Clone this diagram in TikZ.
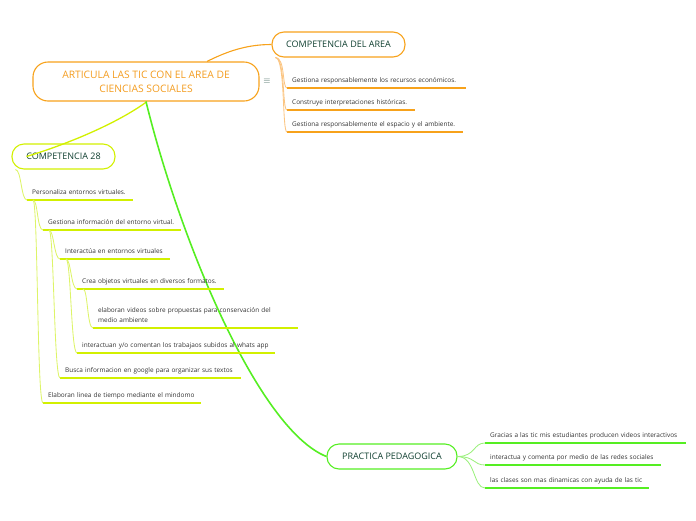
\documentclass[tikz,border=0pt]{standalone}
\usepackage{fontspec}
\setmainfont{Open Sans}
\usetikzlibrary{calc}
\definecolor{orng}{HTML}{F7A21B}
\definecolor{orngtxt}{HTML}{F39C1F}
\definecolor{orngl}{HTML}{FBC582}
\definecolor{lime}{HTML}{D2F000}
\definecolor{limel}{HTML}{DDF468}
\definecolor{grn}{HTML}{55EE22}
\definecolor{grnl}{HTML}{9CF07E}
\definecolor{dkgrn}{HTML}{0F3F30}
\definecolor{itemtxt}{HTML}{333333}
\begin{document}
\begin{tikzpicture}[x=1pt,y=-1pt,
  topic/.style={draw, rounded corners=12pt, line width=1.1pt, text=dkgrn,
    font=\fontsize{9}{10}\selectfont, inner sep=0pt, minimum height=25pt},
  item/.style={anchor=south west, inner xsep=5pt, inner ysep=0pt, align=left,
    text=itemtxt, font=\fontsize{6.45}{10}\selectfont, text depth=5.5pt},
  ul/.style={line width=1.6pt},
  conn/.style={line width=0.85pt},
]
\useasboundingbox (0,0) rectangle (696,520);

% main node
\node[draw=orng, rounded corners=15pt, line width=1.1pt, minimum width=226pt,
  minimum height=39pt, text=orngtxt, font=\fontsize{10.3}{14}\selectfont,
  align=center, inner sep=0pt] (main) at (146,81.5)
  {ARTICULA LAS TIC CON EL AREA DE\\CIENCIAS SOCIALES};
\node[text=dkgrn!80, font=\fontsize{9}{9}\selectfont, inner sep=0pt] (menu) at (267,81) {$\equiv$};

% topics
\node[topic, draw=orng, minimum width=133pt] (cda) at (338.5,44.5) {COMPETENCIA DEL AREA};
\node[topic, draw=lime, minimum width=103pt] (c28) at (63.5,156.5) {COMPETENCIA 28};
\node[topic, draw=grn, minimum width=130pt] (pp) at (392,456.5) {PRACTICA PEDAGOGICA};

% main connectors
\draw[orng, line width=1.1pt] ([xshift=61pt]main.north) .. controls +(20,-10) and +(-25,0) .. (cda.west);
\draw[lime, line width=1.3pt] ([xshift=1pt]main.south) .. controls +(-30,22) and +(40,-12) .. ([xshift=15pt]c28.west);
\draw[grn, line width=1.6pt] (main.south) .. controls +(34,139) and +(-68,-27) .. (pp.west);

% COMPETENCIA DEL AREA items
\node[item, text width=169pt] (a1) at (287,88) {\mbox{Gestiona responsablemente los recursos económicos.}};
\node[item, text width=118pt] (a2) at (287,110) {\mbox{Construye interpretaciones históricas.}};
\node[item, text width=166pt] (a3) at (287,132) {\mbox{Gestiona responsablemente el espacio y el ambiente.}};
\foreach \n in {a1,a2,a3}{
  \draw[ul, orng] (\n.south west) -- (\n.south east);
  \draw[conn, orngl] ([xshift=4pt]cda.south west) .. controls +(10,0) and +(-5,0) .. (\n.south west);
}

% COMPETENCIA 28 items
\node[item, text width=96pt] (b1) at (27,200) {\mbox{Personaliza entornos virtuales.}};
\node[item, text width=128pt] (b2) at (43,230) {\mbox{Gestiona información del entorno virtual.}};
\node[item, text width=100pt] (b3) at (60,259) {\mbox{Interactúa en entornos virtuales}};
\node[item, text width=137pt] (b4) at (77,289) {\mbox{Crea objetos virtuales en diversos formatos.}};
\node[item, text width=195pt, text depth=15.5pt] (b5) at (93,328) {\mbox{elaboran videos sobre propuestas para conservación del}\\\mbox{medio ambiente}};
\node[item, text width=188pt] (b6) at (77,353) {\mbox{interactuan y/o comentan los trabajaos subidos al whats app}};
\node[item, text width=171pt] (b7) at (60,378) {\mbox{Busca informacion en google para organizar sus textos}};
\node[item, text width=148pt] (b8) at (43,403) {\mbox{Elaboran linea de tiempo mediante el mindomo}};
\foreach \n in {b1,b2,b3,b4,b5,b6,b7,b8}{
  \draw[ul, lime] (\n.south west) -- (\n.south east);
}
\draw[conn, limel] ([xshift=4pt]c28.south west) .. controls +(6,0) and +(-6,0) .. (b1.south west);
\foreach \p/\c in {b1/b2,b1/b8,b2/b3,b2/b7,b3/b4,b3/b6,b4/b5}{
  \draw[conn, limel] ([xshift=6pt]\p.south west) .. controls +(5,0) and +(-6,0) .. (\c.south west);
}

% PRACTICA PEDAGOGICA items
\node[item, text width=191pt] (c1) at (485,443) {\mbox{Gracias a las tic mis estudiantes producen videos interactivos}};
\node[item, text width=166pt] (c2) at (485,465) {\mbox{interactua y comenta por medio de las redes sociales}};
\node[item, text width=154pt] (c3) at (485,488) {\mbox{las clases son mas dinamicas con ayuda de las tic}};
\foreach \n in {c1,c2,c3}{
  \draw[ul, grn] (\n.south west) -- (\n.south east);
  \draw[conn, grnl] (pp.east) .. controls +(18,0) and +(-12,0) .. (\n.south west);
}
\end{tikzpicture}
\end{document}
